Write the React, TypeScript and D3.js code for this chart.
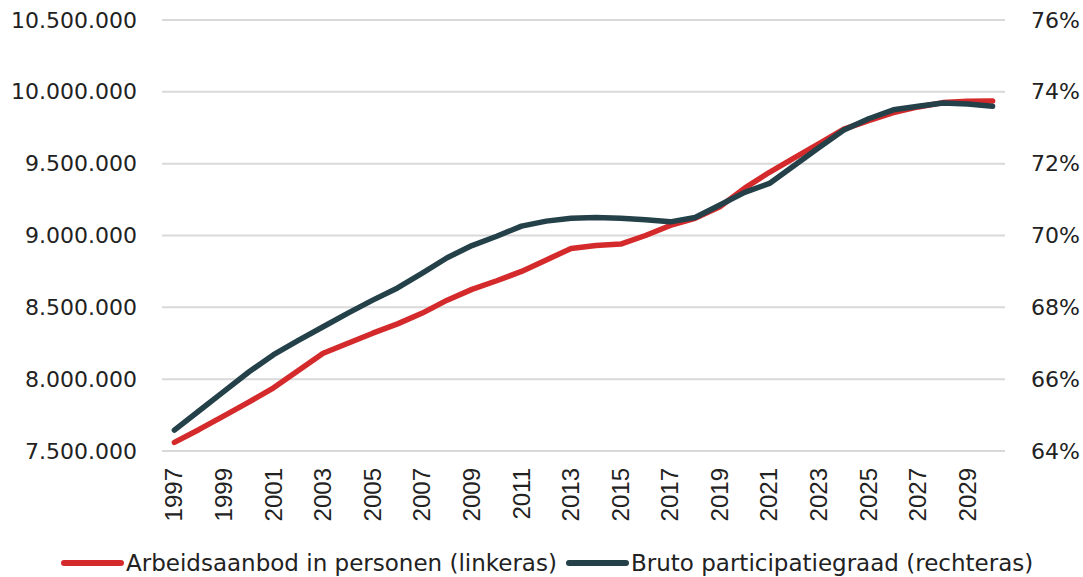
import React, { useEffect, useRef } from 'react'
import * as d3 from 'd3'

const years = d3.range(1997, 2031)
const tickYears = d3.range(1997, 2030, 2)

// arbeidsaanbod in personen (linkeras)
const arbeidsaanbod = [
    7560000, 7650000, 7745000, 7840000, 7940000, 8060000, 8180000, 8250000, 8320000, 8385000,
    8460000, 8550000, 8625000, 8685000, 8750000, 8830000, 8910000, 8930000, 8940000, 9000000,
    9070000, 9120000, 9200000, 9330000, 9440000, 9540000, 9640000, 9740000, 9800000, 9855000,
    9895000, 9925000, 9935000, 9937000,
]

// bruto participatiegraad in % (rechteras)
const participatie = [
    64.58, 65.12, 65.66, 66.2, 66.68, 67.08, 67.46, 67.84, 68.2, 68.54,
    68.95, 69.38, 69.72, 69.98, 70.26, 70.4, 70.48, 70.5, 70.48, 70.44,
    70.38, 70.5, 70.85, 71.2, 71.45, 71.95, 72.45, 72.94, 73.25, 73.5,
    73.6, 73.69, 73.66, 73.6,
]

const leftTicks = [7500000, 8000000, 8500000, 9000000, 9500000, 10000000, 10500000]
const rightTicks = [64, 66, 68, 70, 72, 74, 76]

const legendItems = [
    { label: 'Arbeidsaanbod in personen (linkeras)', color: '#d42a2c' },
    { label: 'Bruto participatiegraad (rechteras)', color: '#24414a' },
]

export default function App() {
    const ref = useRef<SVGSVGElement>(null)

    useEffect(() => {
        const width = 1083
        const height = 577
        const margin = { top: 20, right: 78, bottom: 126, left: 162 }
        const svg = d3.select(ref.current)
        svg.selectAll('*').remove()

        const x = d3.scaleBand<number>()
            .domain(years)
            .range([margin.left, width - margin.right])
        const cx = (yr: number) => (x(yr) as number) + x.bandwidth() / 2

        const yLeft = d3.scaleLinear().domain([7500000, 10500000]).range([height - margin.bottom, margin.top])
        const yRight = d3.scaleLinear().domain([64, 76]).range([height - margin.bottom, margin.top])

        const fmt = (v: number) => d3.format(',')(v).replace(/,/g, '.')

        // gridlines
        svg.append('g')
            .selectAll('line')
            .data(leftTicks)
            .join('line')
            .attr('x1', margin.left)
            .attr('x2', width - margin.right)
            .attr('y1', d => yLeft(d))
            .attr('y2', d => yLeft(d))
            .attr('stroke', '#d9d9d9')
            .attr('stroke-width', 2)

        // left axis
        const leftAxis = svg.append('g')
            .attr('transform', `translate(${margin.left}, 0)`)
            .call(d3.axisLeft(yLeft).tickValues(leftTicks).tickFormat(d => fmt(+d)).tickSize(0).tickPadding(25))
        leftAxis.select('.domain').remove()
        leftAxis.selectAll('text')
            .attr('font-family', 'DejaVu Sans')
            .attr('font-size', 22)
            .attr('fill', '#222')

        // right axis
        const rightAxis = svg.append('g')
            .attr('transform', `translate(${width - margin.right}, 0)`)
            .call(d3.axisRight(yRight).tickValues(rightTicks).tickFormat(d => `${d}%`).tickSize(0).tickPadding(26))
        rightAxis.select('.domain').remove()
        rightAxis.selectAll('text')
            .attr('font-family', 'DejaVu Sans')
            .attr('font-size', 22)
            .attr('fill', '#222')

        // x axis labels
        svg.append('g')
            .selectAll('text')
            .data(tickYears)
            .join('text')
            .attr('transform', d => `translate(${cx(d) + 8}, ${height - margin.bottom + 17}) rotate(-90)`)
            .attr('text-anchor', 'end')
            .attr('font-family', 'Liberation Sans')
            .attr('font-size', 24)
            .attr('fill', '#222')
            .text(d => d)

        const lineLeft = d3.line<number>()
            .x((d, i) => cx(years[i]))
            .y(d => yLeft(d))
        const lineRight = d3.line<number>()
            .x((d, i) => cx(years[i]))
            .y(d => yRight(d))

        svg.append('path')
            .datum(arbeidsaanbod)
            .attr('d', lineLeft)
            .attr('fill', 'none')
            .attr('stroke', legendItems[0].color)
            .attr('stroke-width', 5.5)
            .attr('stroke-linecap', 'round')
            .attr('stroke-linejoin', 'round')

        svg.append('path')
            .datum(participatie)
            .attr('d', lineRight)
            .attr('fill', 'none')
            .attr('stroke', legendItems[1].color)
            .attr('stroke-width', 5.5)
            .attr('stroke-linecap', 'round')
            .attr('stroke-linejoin', 'round')

        // legend
        const legendX = [64, 569]
        const legend = svg.append('g')
            .selectAll('g')
            .data(legendItems)
            .join('g')
            .attr('transform', (d, i) => `translate(${legendX[i]}, 563)`)
        legend.append('line')
            .attr('x1', 0)
            .attr('x2', 57)
            .attr('stroke', d => d.color)
            .attr('stroke-width', 6)
            .attr('stroke-linecap', 'round')
        legend.append('text')
            .attr('x', 62)
            .attr('y', 8)
            .attr('font-family', 'DejaVu Sans')
            .attr('font-size', 23)
            .attr('fill', '#222')
            .text(d => d.label)
    }, [])

    return (
        <svg ref={ref} width={1083} height={577}
            style={{ position: 'absolute', left: 0, top: 0, background: '#fff' }} />
    )
}
